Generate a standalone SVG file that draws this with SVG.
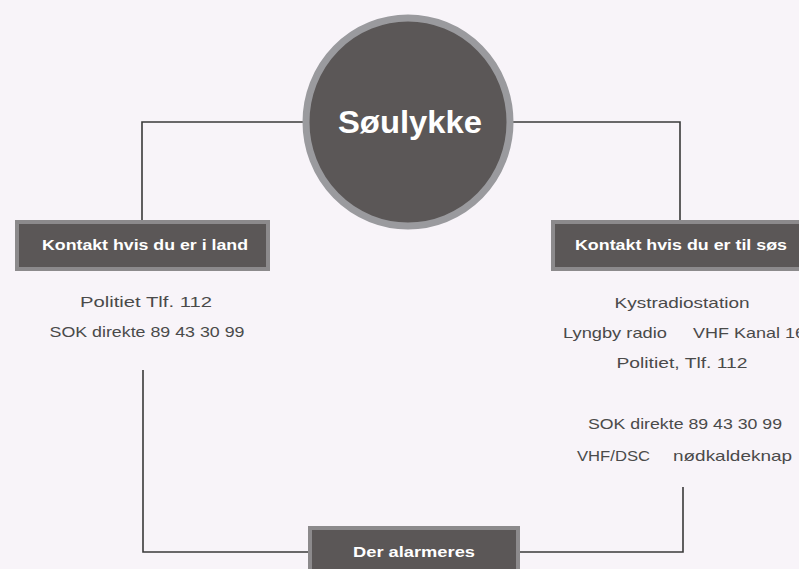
<svg xmlns="http://www.w3.org/2000/svg" width="799" height="569" viewBox="0 0 799 569">
<style>
.bg{fill:#f8f4f9}
.line{fill:none;stroke:#3a3a3a;stroke-width:1.6}
.box{fill:#5b5757;stroke:#8c8a8c;stroke-width:4}
.boxtxt{font-family:"Liberation Sans",Arial,sans-serif;font-weight:bold;font-size:15px;fill:#ffffff;text-anchor:middle}
.txt{font-family:"Liberation Sans",Arial,sans-serif;font-size:15px;fill:#4a4a4a;text-anchor:middle}
.txts{font-family:"Liberation Sans",Arial,sans-serif;font-size:15px;fill:#4a4a4a}
</style>
<rect class="bg" x="0" y="0" width="799" height="569"/>
<g id="connectors">
<path class="line" d="M305,122 H142 V221"/>
<path class="line" d="M511,122 H680 V221"/>
<path class="line" d="M143,370 V552 H308"/>
<path class="line" d="M683,487 V552 H518"/>
</g>
<g id="soulykke">
<ellipse cx="408" cy="122" rx="102" ry="104" fill="#5b5757" stroke="#9a9a9e" stroke-width="7"/>
<text x="410" y="133" font-family="'Liberation Sans',Arial,sans-serif" font-weight="bold" font-size="31" fill="#ffffff" text-anchor="middle" textLength="144" lengthAdjust="spacingAndGlyphs">Søulykke</text>
</g>
<g id="land">
<rect class="box" x="17" y="222" width="251" height="47"/>
<text class="boxtxt" x="145" y="250" textLength="206" lengthAdjust="spacingAndGlyphs">Kontakt hvis du er i land</text>
</g>
<g id="land-info">
<text class="txt" x="146" y="307" textLength="132" lengthAdjust="spacingAndGlyphs">Politiet Tlf. 112</text>
<text class="txt" x="147" y="337" textLength="195" lengthAdjust="spacingAndGlyphs">SOK direkte 89 43 30 99</text>
</g>
<g id="sos">
<rect class="box" x="553" y="222" width="252" height="47"/>
<text class="boxtxt" x="681" y="250" textLength="212" lengthAdjust="spacingAndGlyphs">Kontakt hvis du er til søs</text>
</g>
<g id="sos-info">
<text class="txt" x="682" y="308" textLength="135" lengthAdjust="spacingAndGlyphs">Kystradiostation</text>
<text class="txts" x="563" y="338" textLength="104" lengthAdjust="spacingAndGlyphs">Lyngby radio</text>
<text class="txts" x="693" y="338" textLength="112" lengthAdjust="spacingAndGlyphs">VHF Kanal 16</text>
<text class="txt" x="682" y="368" textLength="131" lengthAdjust="spacingAndGlyphs">Politiet, Tlf. 112</text>
<text class="txt" x="685" y="429" textLength="194" lengthAdjust="spacingAndGlyphs">SOK direkte 89 43 30 99</text>
<text class="txts" x="577" y="461" textLength="73" lengthAdjust="spacingAndGlyphs">VHF/DSC</text>
<text class="txts" x="673" y="461" textLength="119" lengthAdjust="spacingAndGlyphs">nødkaldeknap</text>
</g>
<g id="alarm">
<rect class="box" x="310" y="528" width="208" height="50"/>
<text class="boxtxt" x="414" y="557" textLength="122" lengthAdjust="spacingAndGlyphs">Der alarmeres</text>
</g>
</svg>
